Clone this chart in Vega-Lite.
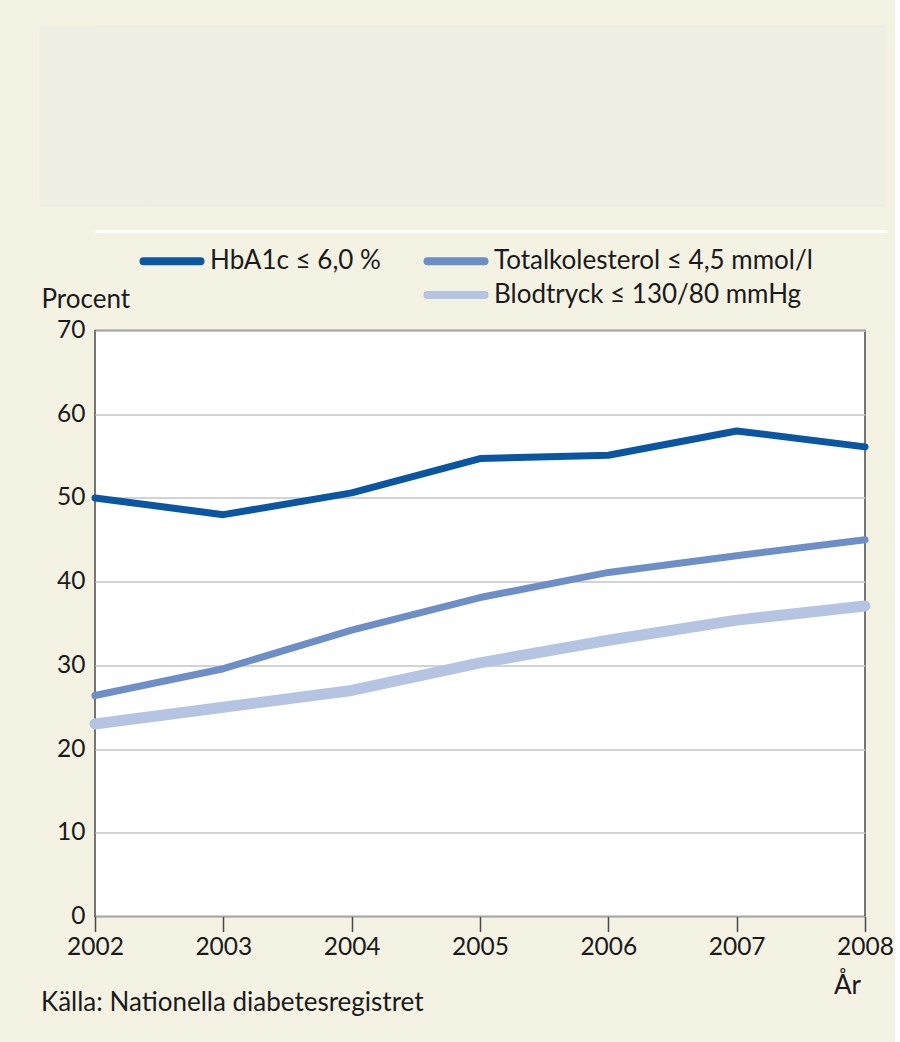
{
  "$schema": "https://vega.github.io/schema/vega-lite/v6.json",
  "background": "#f3f2e3",
  "padding": {"left": 40, "top": 25, "right": 0, "bottom": 27},
  "config": {
    "font": "Lato",
    "view": {"stroke": null}
  },
  "resolve": {"scale": {"color": "independent"}, "legend": {"color": "independent"}},
  "vconcat": [
    {
      "width": 791,
      "height": 182,
      "view": {"fill": "#efeee3", "stroke": null},
      "data": {"values": [{"k": 0, "j": 0}]},
      "mark": {"type": "point", "opacity": 0},
      "encoding": {
        "y": {
          "field": "k",
          "type": "quantitative",
          "scale": {"domain": [0, 1]},
          "axis": {"domainWidth": 112, "domainColor": "#efeee3", "domainCap": "butt", "labels": false, "ticks": false, "grid": false, "title": null}
        },
        "x": {
          "field": "j",
          "type": "quantitative",
          "scale": {"domain": [0, 1]},
          "axis": {"orient": "bottom", "offset": 24, "domainWidth": 3, "domainColor": "#ffffff", "domainCap": "butt", "labels": false, "ticks": false, "grid": false, "title": null}
        }
      }
    },
    {
      "resolve": {"scale": {"color": "independent"}, "legend": {"color": "independent"}},
      "vconcat": [
        {
          "width": 770,
          "height": 586,
          "view": {"fill": "#ffffff", "stroke": "#4a4a4a", "strokeWidth": 1.5},
          "data": {
            "values": [
              {"year": 2002, "series": "HbA1c ≤ 6,0 %", "value": 50.0},
              {"year": 2003, "series": "HbA1c ≤ 6,0 %", "value": 48.0},
              {"year": 2004, "series": "HbA1c ≤ 6,0 %", "value": 50.6},
              {"year": 2005, "series": "HbA1c ≤ 6,0 %", "value": 54.7},
              {"year": 2006, "series": "HbA1c ≤ 6,0 %", "value": 55.1},
              {"year": 2007, "series": "HbA1c ≤ 6,0 %", "value": 58.0},
              {"year": 2008, "series": "HbA1c ≤ 6,0 %", "value": 56.1},
              {"year": 2002, "series": "Totalkolesterol ≤ 4,5 mmol/l", "value": 26.4},
              {"year": 2003, "series": "Totalkolesterol ≤ 4,5 mmol/l", "value": 29.6},
              {"year": 2004, "series": "Totalkolesterol ≤ 4,5 mmol/l", "value": 34.2},
              {"year": 2005, "series": "Totalkolesterol ≤ 4,5 mmol/l", "value": 38.1},
              {"year": 2006, "series": "Totalkolesterol ≤ 4,5 mmol/l", "value": 41.1},
              {"year": 2007, "series": "Totalkolesterol ≤ 4,5 mmol/l", "value": 43.1},
              {"year": 2008, "series": "Totalkolesterol ≤ 4,5 mmol/l", "value": 45.0},
              {"year": 2002, "series": "Blodtryck ≤ 130/80 mmHg", "value": 23.0},
              {"year": 2003, "series": "Blodtryck ≤ 130/80 mmHg", "value": 25.0},
              {"year": 2004, "series": "Blodtryck ≤ 130/80 mmHg", "value": 27.0},
              {"year": 2005, "series": "Blodtryck ≤ 130/80 mmHg", "value": 30.3},
              {"year": 2006, "series": "Blodtryck ≤ 130/80 mmHg", "value": 33.0},
              {"year": 2007, "series": "Blodtryck ≤ 130/80 mmHg", "value": 35.4},
              {"year": 2008, "series": "Blodtryck ≤ 130/80 mmHg", "value": 37.1}
            ]
          },
          "title": {
            "text": "Källa: Nationella diabetesregistret",
            "orient": "bottom",
            "anchor": "start",
            "frame": "group",
            "dx": -54,
            "dy": -13,
            "fontSize": 26,
            "fontWeight": "normal",
            "color": "#1a1a1a",
            "font": "Lato"
          },
          "encoding": {
            "x": {
              "field": "year",
              "type": "quantitative",
              "scale": {"domain": [2002, 2008], "nice": false, "zero": false},
              "axis": {
                "values": [2002, 2003, 2004, 2005, 2006, 2007, 2008],
                "format": "d",
                "grid": false,
                "domain": false,
                "ticks": true,
                "tickColor": "#4a4a4a",
                "tickWidth": 1.5,
                "tickSize": 15,
                "labelPadding": 4,
                "labelFontSize": 24.5,
                "labelColor": "#1a1a1a",
                "labelFlush": false,
                "title": "År",
                "titleFontSize": 26,
                "titleFontWeight": "normal",
                "titleColor": "#1a1a1a",
                "titleX": 752,
                "titleY": 77,
                "titleAlign": "center",
                "titleBaseline": "alphabetic"
              }
            },
            "y": {
              "field": "value",
              "type": "quantitative",
              "scale": {"domain": [0, 70], "nice": false},
              "axis": {
                "values": [0, 10, 20, 30, 40, 50, 60, 70],
                "grid": true,
                "gridColor": "#c4c4c4",
                "gridWidth": 1.5,
                "domain": false,
                "ticks": false,
                "labelPadding": 10,
                "labelFontSize": 24.5,
                "labelColor": "#1a1a1a",
                "title": "Procent",
                "titleAngle": 0,
                "titleAlign": "left",
                "titleBaseline": "alphabetic",
                "titleX": -54,
                "titleY": -23,
                "titleFontSize": 26,
                "titleFontWeight": "normal",
                "titleColor": "#1a1a1a"
              }
            },
            "color": {
              "field": "series",
              "type": "nominal",
              "scale": {
                "domain": ["HbA1c ≤ 6,0 %", " ", "Totalkolesterol ≤ 4,5 mmol/l", "Blodtryck ≤ 130/80 mmHg"],
                "range": ["#0b56a2", "transparent", "#6e8ec8", "#b5c4e2"]
              },
              "legend": {
                "title": null,
                "orient": "none",
                "legendX": 63.5,
                "legendY": -83,
                "columns": 2,
                "columnPadding": 30,
                "rowPadding": 1,
                "symbolType": "M-3,0H3",
                "symbolSize": 361,
                "symbolStrokeWidth": 8,
                "labelOffset": 24.5,
                "labelFontSize": 26,
                "labelColor": "#1a1a1a",
                "labelLimit": 500,
                "encode": {"symbols": {"update": {"strokeCap": {"value": "round"}}}}
              }
            }
          },
          "layer": [
            {
              "transform": [{"filter": "datum.series === 'Blodtryck ≤ 130/80 mmHg'"}],
              "mark": {"type": "line", "strokeWidth": 11, "strokeCap": "round", "strokeJoin": "round"}
            },
            {
              "transform": [{"filter": "datum.series === 'Totalkolesterol ≤ 4,5 mmol/l'"}],
              "mark": {"type": "line", "strokeWidth": 7, "strokeCap": "round", "strokeJoin": "round"}
            },
            {
              "transform": [{"filter": "datum.series === 'HbA1c ≤ 6,0 %'"}],
              "mark": {"type": "line", "strokeWidth": 7, "strokeCap": "round", "strokeJoin": "round"}
            }
          ]
        }
      ]
    }
  ],
  "spacing": 15.5
}
